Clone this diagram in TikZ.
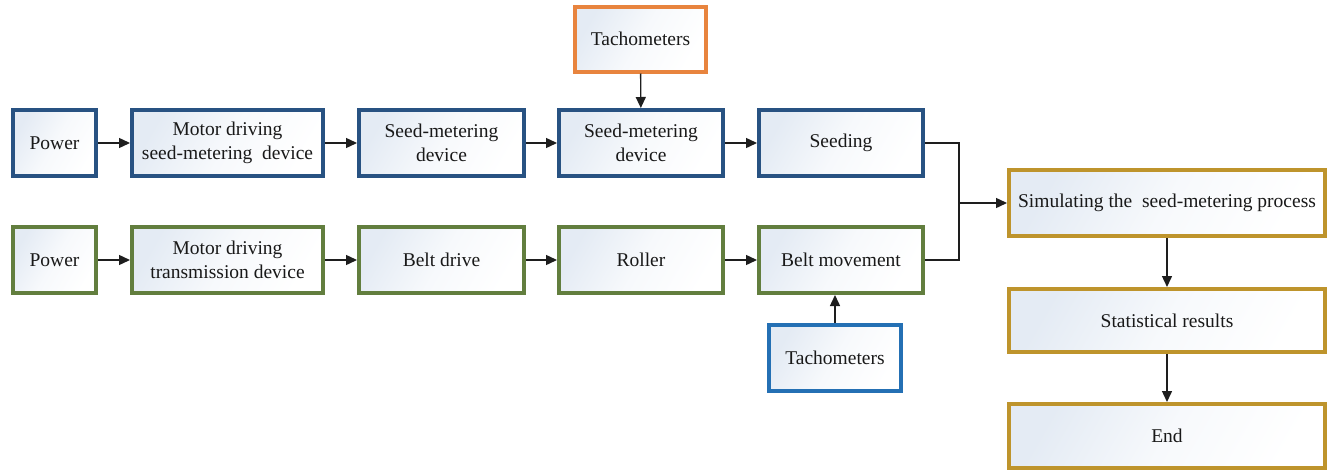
\documentclass[tikz,border=0pt]{standalone}
\usepackage{fontspec}
\setmainfont{Liberation Serif}
\usetikzlibrary{arrows.meta}
\definecolor{cblue}{RGB}{40,82,130}
\definecolor{cgreen}{RGB}{98,126,62}
\definecolor{corange}{RGB}{232,132,62}
\definecolor{clblue}{RGB}{36,112,180}
\definecolor{cgold}{RGB}{190,148,44}
\definecolor{cfill}{RGB}{228,235,244}
\definecolor{cline}{RGB}{30,30,30}
\tikzset{
  box/.style={draw, line width=4pt, inner sep=0pt, align=center,
    top color=cfill, bottom color=white, middle color=white!70!cfill, shading angle=60,
    font=\fontsize{19.5}{24}\selectfont, text=black!90},
  arr/.style={draw=cline, line width=1.4pt, -{Triangle[length=11pt,width=10pt]}},
  ln/.style={draw=cline, line width=1.4pt}
}
\begin{document}
\begin{tikzpicture}[x=1pt,y=-1pt]
\useasboundingbox (0,0) rectangle (1327,471);
% top row
\node[box, draw=cblue, minimum width=83pt, minimum height=66pt] (p1) at (54.5,143) {Power};
\node[box, draw=cblue, minimum width=191pt, minimum height=66pt] (m1) at (227.5,143) {Motor driving\\seed-metering\ \ device};
\node[box, draw=cblue, minimum width=165pt, minimum height=66pt] (s1) at (441.5,143) {Seed-metering\\device};
\node[box, draw=cblue, minimum width=164pt, minimum height=66pt] (s2) at (641,143) {Seed-metering\\device};
\node[box, draw=cblue, minimum width=164pt, minimum height=66pt] (sd) at (841,143) {Seeding};
\node[box, draw=corange, minimum width=131pt, minimum height=65pt] (t1) at (640.5,39) {Tachometers};
% bottom row
\node[box, draw=cgreen, minimum width=83pt, minimum height=66pt] (p2) at (54.5,260) {Power};
\node[box, draw=cgreen, minimum width=191pt, minimum height=66pt] (m2) at (227.5,260) {Motor driving\\transmission device};
\node[box, draw=cgreen, minimum width=165pt, minimum height=66pt] (bd) at (441.5,260) {Belt drive};
\node[box, draw=cgreen, minimum width=164pt, minimum height=66pt] (ro) at (641,260) {Roller};
\node[box, draw=cgreen, minimum width=164pt, minimum height=66pt] (bm) at (841,260) {Belt movement};
\node[box, draw=clblue, minimum width=132pt, minimum height=66pt] (t2) at (835,358) {Tachometers};
% right column
\node[box, draw=cgold, minimum width=316pt, minimum height=66pt] (sim) at (1167,203) {Simulating the\ \ seed-metering process};
\node[box, draw=cgold, minimum width=316pt, minimum height=63pt] (st) at (1167,320.5) {Statistical results};
\node[box, draw=cgold, minimum width=316pt, minimum height=64pt] (en) at (1167,436) {End};
% connectors
\draw[arr] (p1) -- (m1);
\draw[arr] (m1) -- (s1);
\draw[arr] (s1) -- (s2);
\draw[arr] (s2) -- (sd);
\draw[arr] (t1) -- (s2);
\draw[arr] (p2) -- (m2);
\draw[arr] (m2) -- (bd);
\draw[arr] (bd) -- (ro);
\draw[arr] (ro) -- (bm);
\draw[arr] (t2) -- (t2 |- bm.south);
\coordinate (j) at (959,203);
\draw[ln] (sd.east) -| (j);
\draw[ln] (bm.east) -| (j);
\draw[arr] (j) -- (sim.west);
\draw[arr] (sim) -- (st);
\draw[arr] (st) -- (en);
\end{tikzpicture}
\end{document}
